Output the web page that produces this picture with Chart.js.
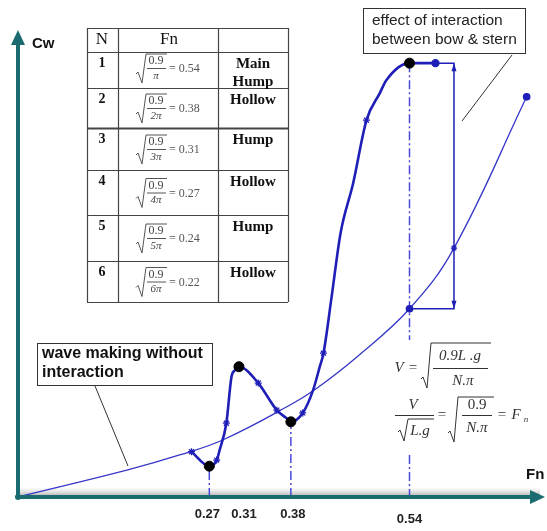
<!DOCTYPE html>
<html>
<head>
<meta charset="utf-8">
<script src="https://cdn.jsdelivr.net/npm/chart.js@4.4.1/dist/chart.umd.min.js"></script>
<style>
  body { margin: 0; background: #fff; }
  #wrap { width: 547px; height: 531px; }
</style>
</head>
<body>
<div id="wrap"><canvas id="cwChart"></canvas></div>
<script>
// Fn values marked on the horizontal axis
const fnTicks = [0.27, 0.31, 0.38, 0.54];
const fnTickLabels = ['0.27', '0.31', '0.38', '0.54'];

// wave making without interaction
const baseFn = [0.012, 0.160, 0.230, 0.288, 0.379, 0.415, 0.469, 0.540, 0.600, 0.698];
const baseCw = [0, 0.58, 0.90, 1.22, 1.97, 2.33, 3.00, 4.03, 5.33, 8.57];

// wave making with bow / stern interaction
const humpFn = [0.246, 0.270, 0.280, 0.284, 0.293, 0.300, 0.305, 0.310, 0.336, 0.361, 0.374, 0.380,
                0.396, 0.410, 0.419, 0.424, 0.435, 0.447, 0.464, 0.482, 0.500, 0.509, 0.540, 0.575];
const humpCw = [0.97, 0.66, 0.79, 1.01, 1.58, 2.58, 2.72, 2.79, 2.44, 1.86, 1.69, 1.61,
                1.80, 2.29, 2.79, 3.08, 4.29, 5.65, 6.72, 8.07, 8.65, 8.93, 9.29, 9.29];
const humpMarks = [0, 2, 4, 8, 9, 12, 15, 19];

// humps and hollows (black dots)
const keyFn = [0.27, 0.31, 0.38, 0.54];
const keyCw = [0.66, 2.79, 1.61, 9.29];

// table: N, Fn = sqrt(0.9 / N.pi)
const tableN = ['1', '2', '3', '4', '5', '6'];
const tableDen = ['\u03C0', '2\u03C0', '3\u03C0', '4\u03C0', '5\u03C0', '6\u03C0'];
const tableFn = ['0.54', '0.38', '0.31', '0.27', '0.24', '0.22'];
const tableKind = [['Main', 'Hump'], ['Hollow'], ['Hump'], ['Hollow'], ['Hump'], ['Hollow']];

const pts = (xs, ys) => xs.map((x, i) => ({ x: x, y: ys[i] }));

const BLUE = '#1f1fb8';
const TEAL = '#1b6c70';
const SERIF = '"Liberation Serif", "DejaVu Serif", serif';
const SANS = '"Liberation Sans", Arial, sans-serif';

function txt(ctx, s, x, y, font, color, align) {
  ctx.font = font;
  ctx.fillStyle = color || '#222';
  ctx.textAlign = align || 'center';
  ctx.textBaseline = 'middle';
  ctx.fillText(s, x, y);
}

function radical(ctx, x, yTop, yBot, w) {
  ctx.beginPath();
  ctx.moveTo(x - 4, yBot - 9);
  ctx.lineTo(x - 2, yBot - 11);
  ctx.lineTo(x + 2, yBot);
  ctx.lineTo(x + 6, yTop);
  ctx.lineTo(x + 6 + w, yTop);
  ctx.stroke();
}

function hline(ctx, x1, x2, y) {
  ctx.beginPath();
  ctx.moveTo(x1, y);
  ctx.lineTo(x2, y);
  ctx.stroke();
}

const diagram = {
  id: 'diagram',
  beforeDatasetsDraw(chart) {
    const ctx = chart.ctx;
    const a = chart.chartArea;
    const g = ctx.createLinearGradient(0, a.bottom - 10, 0, a.bottom);
    g.addColorStop(0, 'rgba(210,210,210,0)');
    g.addColorStop(1, 'rgba(150,150,150,0.85)');
    ctx.fillStyle = g;
    ctx.fillRect(a.left, a.bottom - 10, a.right - a.left, 10);
  },
  afterDatasetsDraw(chart) {
    const ctx = chart.ctx;
    const a = chart.chartArea;
    const xs = chart.scales.x, ys = chart.scales.y;
    ctx.save();

    // axes with arrows
    ctx.strokeStyle = TEAL;
    ctx.fillStyle = TEAL;
    ctx.lineWidth = 4;
    ctx.beginPath();
    ctx.moveTo(a.left, a.bottom);
    ctx.lineTo(a.left, a.top + 12);
    ctx.moveTo(a.left, a.bottom);
    ctx.lineTo(a.right - 6, a.bottom);
    ctx.stroke();
    ctx.beginPath();
    ctx.moveTo(a.left, a.top);
    ctx.lineTo(a.left - 7, a.top + 15);
    ctx.lineTo(a.left + 7, a.top + 15);
    ctx.closePath();
    ctx.fill();
    ctx.beginPath();
    ctx.moveTo(a.right + 5, a.bottom);
    ctx.lineTo(a.right - 10, a.bottom - 7);
    ctx.lineTo(a.right - 10, a.bottom + 7);
    ctx.closePath();
    ctx.fill();
    ctx.beginPath();
    ctx.arc(a.left, a.bottom, 3, 0, Math.PI * 2);
    ctx.fill();

    txt(ctx, 'Cw', a.left + 14, a.top + 14, 'bold 15px ' + SANS, '#111', 'left');
    txt(ctx, 'Fn', 526, 475, 'bold 15px ' + SANS, '#111', 'left');

    // tick labels: the sketch spreads 0.27 / 0.31 apart a little
    const nudge = [-2, 5, 2, 0];
    fnTicks.forEach((v, i) => {
      const dy = v === 0.54 ? 22 : 17;
      txt(ctx, fnTickLabels[i], xs.getPixelForValue(v) + nudge[i], a.bottom + dy, 'bold 13px ' + SANS, '#222');
    });

    // dimension arrows (interaction effect)
    const dx = xs.getPixelForValue(0.600);
    const dTop = ys.getPixelForValue(keyCw[3]);
    const dBot = ys.getPixelForValue(baseCw[7]);
    ctx.fillStyle = BLUE;
    [[dTop, 1], [dBot, -1]].forEach(([y, s]) => {
      ctx.beginPath();
      ctx.moveTo(dx, y);
      ctx.lineTo(dx - 2.5, y + 8 * s);
      ctx.lineTo(dx + 2.5, y + 8 * s);
      ctx.closePath();
      ctx.fill();
    });

    // annotation boxes and leaders
    ctx.lineWidth = 1;
    ctx.strokeStyle = '#333';
    ctx.fillStyle = '#fff';
    ctx.fillRect(37, 343, 175, 42);
    ctx.strokeRect(37.5, 343.5, 175, 42);
    txt(ctx, 'wave making without', 42, 354, 'bold 16px ' + SANS, '#111', 'left');
    txt(ctx, 'interaction', 42, 373, 'bold 16px ' + SANS, '#111', 'left');
    ctx.beginPath();
    ctx.moveTo(95, 386);
    ctx.lineTo(128, 466);
    ctx.stroke();

    ctx.fillStyle = '#fff';
    ctx.fillRect(363, 8, 162, 45);
    ctx.strokeRect(363.5, 8.5, 162, 45);
    txt(ctx, 'effect of interaction', 372, 21, '15.5px ' + SANS, '#222', 'left');
    txt(ctx, 'between bow & stern', 372, 40, '15.5px ' + SANS, '#222', 'left');
    ctx.beginPath();
    ctx.moveTo(512, 55);
    ctx.lineTo(462, 121);
    ctx.stroke();

    // formulas
    ctx.strokeStyle = '#333';
    ctx.lineWidth = 1;
    const fi = 'italic 15px ' + SERIF;
    txt(ctx, 'V', 399, 368, fi, '#333');
    txt(ctx, '=', 413, 368, '15px ' + SERIF, '#333');
    radical(ctx, 425, 343, 388, 60);
    txt(ctx, '0.9L .g', 460, 356, fi, '#333');
    hline(ctx, 433, 488, 368.5);
    txt(ctx, 'N.\u03C0', 463, 381, fi, '#333');

    txt(ctx, 'V', 413, 405, fi, '#333');
    hline(ctx, 395, 434, 415.5);
    radical(ctx, 402, 419, 441, 26);
    txt(ctx, 'L.g', 420, 431, fi, '#333');
    txt(ctx, '=', 442, 415, '15px ' + SERIF, '#333');
    radical(ctx, 452, 397, 442, 36);
    txt(ctx, '0.9', 477, 405, '15px ' + SERIF, '#333');
    hline(ctx, 462, 492, 415.5);
    txt(ctx, 'N.\u03C0', 477, 428, fi, '#333');
    txt(ctx, '=', 502, 415, '15px ' + SERIF, '#333');
    txt(ctx, 'F', 516, 415, fi, '#333');
    txt(ctx, 'n', 526, 420, 'italic 9px ' + SERIF, '#333');

    // table
    const cols = [87, 118, 218, 288];
    const rows = [28, 52, 88, 128, 170, 215, 261, 302];
    ctx.fillStyle = '#fff';
    ctx.fillRect(cols[0], rows[0], cols[3] - cols[0], rows[7] - rows[0]);
    ctx.strokeStyle = '#444';
    rows.forEach((y, i) => {
      ctx.lineWidth = (i === 3) ? 2.2 : 1.2;
      hline(ctx, cols[0], cols[3], y + 0.5);
    });
    ctx.lineWidth = 1.2;
    cols.forEach(x => {
      ctx.beginPath();
      ctx.moveTo(x + 0.5, rows[0]);
      ctx.lineTo(x + 0.5, rows[7]);
      ctx.stroke();
    });
    txt(ctx, 'N', 102, 40, '17px ' + SERIF, '#111');
    txt(ctx, 'Fn', 169, 40, '17px ' + SERIF, '#111');
    ctx.strokeStyle = '#555';
    ctx.lineWidth = 1;
    tableN.forEach((n, i) => {
      const top = rows[i + 1], bot = rows[i + 2];
      const yc = (top + bot) / 2 - (i === 0 ? 2 : 0);
      txt(ctx, n, 102, top + 11, 'bold 14px ' + SERIF, '#111');
      tableKind[i].forEach((w, k) => {
        txt(ctx, w, 253, top + 12 + k * 18, 'bold 15px ' + SERIF, '#111');
      });
      radical(ctx, 140, yc - 14, yc + 15, 21);
      txt(ctx, '0.9', 156, yc - 7, '12px ' + SERIF, '#444');
      hline(ctx, 147, 166, yc + 0.5);
      txt(ctx, tableDen[i], 156, yc + 8, 'italic 11px ' + SERIF, '#444');
      txt(ctx, '= ' + tableFn[i], 169, yc + 1, '12px ' + SERIF, '#555', 'left');
    });

    ctx.restore();
  }
};

new Chart(document.getElementById('cwChart').getContext('2d'), {
  type: 'line',
  data: {
    datasets: [
      {
        label: 'humps and hollows',
        data: pts(keyFn, keyCw),
        showLine: false,
        pointRadius: 5,
        pointBackgroundColor: '#000',
        pointBorderColor: '#000'
      },
      {
        label: 'with interaction',
        data: pts(humpFn, humpCw),
        borderColor: BLUE,
        borderWidth: 2.6,
        cubicInterpolationMode: 'monotone',
        pointStyle: c => c.dataIndex === humpFn.length - 1 ? 'circle' : 'star',
        pointRadius: c => (humpMarks.includes(c.dataIndex) || c.dataIndex === humpFn.length - 1) ? 3.5 : 0,
        pointBorderColor: BLUE,
        pointBackgroundColor: BLUE,
        pointBorderWidth: 1.3
      },
      {
        label: 'without interaction',
        data: pts(baseFn, baseCw),
        borderColor: '#3636c8',
        borderWidth: 1.3,
        tension: 0.4,
        pointStyle: c => c.dataIndex === 8 ? 'star' : 'circle',
        pointRadius: c => [7, 8, 9].includes(c.dataIndex) ? 3.2 : 0,
        pointBorderColor: BLUE,
        pointBackgroundColor: BLUE,
        pointBorderWidth: 1.3
      },
      {
        label: 'interaction effect',
        data: [
          { x: keyFn[3], y: baseCw[7] },
          { x: 0.600, y: baseCw[7] },
          { x: 0.600, y: keyCw[3] },
          { x: humpFn[humpFn.length - 1], y: keyCw[3] }
        ],
        borderColor: BLUE,
        borderWidth: 1.5,
        tension: 0,
        pointRadius: 0
      },
      {
        label: 'Fn 0.27',
        data: [{ x: keyFn[0], y: 0 }, { x: keyFn[0], y: keyCw[0] }],
        borderColor: '#4a4ad8',
        borderWidth: 1.5,
        borderDash: [9, 3, 2, 3],
        pointRadius: 0
      },
      {
        label: 'Fn 0.38',
        data: [{ x: keyFn[2], y: 0 }, { x: keyFn[2], y: keyCw[2] }],
        borderColor: '#4a4ad8',
        borderWidth: 1.5,
        borderDash: [9, 3, 2, 3],
        pointRadius: 0
      },
      {
        label: 'Fn 0.54',
        data: [
          { x: keyFn[3], y: keyCw[3] }, { x: keyFn[3], y: 3.36 }, { x: keyFn[3], y: null },
          { x: keyFn[3], y: 0.90 }, { x: keyFn[3], y: 0 }
        ],
        borderColor: '#4a4ad8',
        borderWidth: 1.5,
        borderDash: [9, 3, 2, 3],
        spanGaps: false,
        pointRadius: 0
      }
    ]
  },
  options: {
    responsive: true,
    maintainAspectRatio: false,
    animation: false,
    layout: { padding: { left: 18, right: 7, top: 30, bottom: 34 } },
    plugins: { legend: { display: false }, tooltip: { enabled: false } },
    scales: {
      x: { type: 'linear', min: 0.012, max: 0.716, display: false },
      y: { type: 'linear', min: 0, max: 10, display: false }
    }
  },
  plugins: [diagram]
});
</script>
</body>
</html>
